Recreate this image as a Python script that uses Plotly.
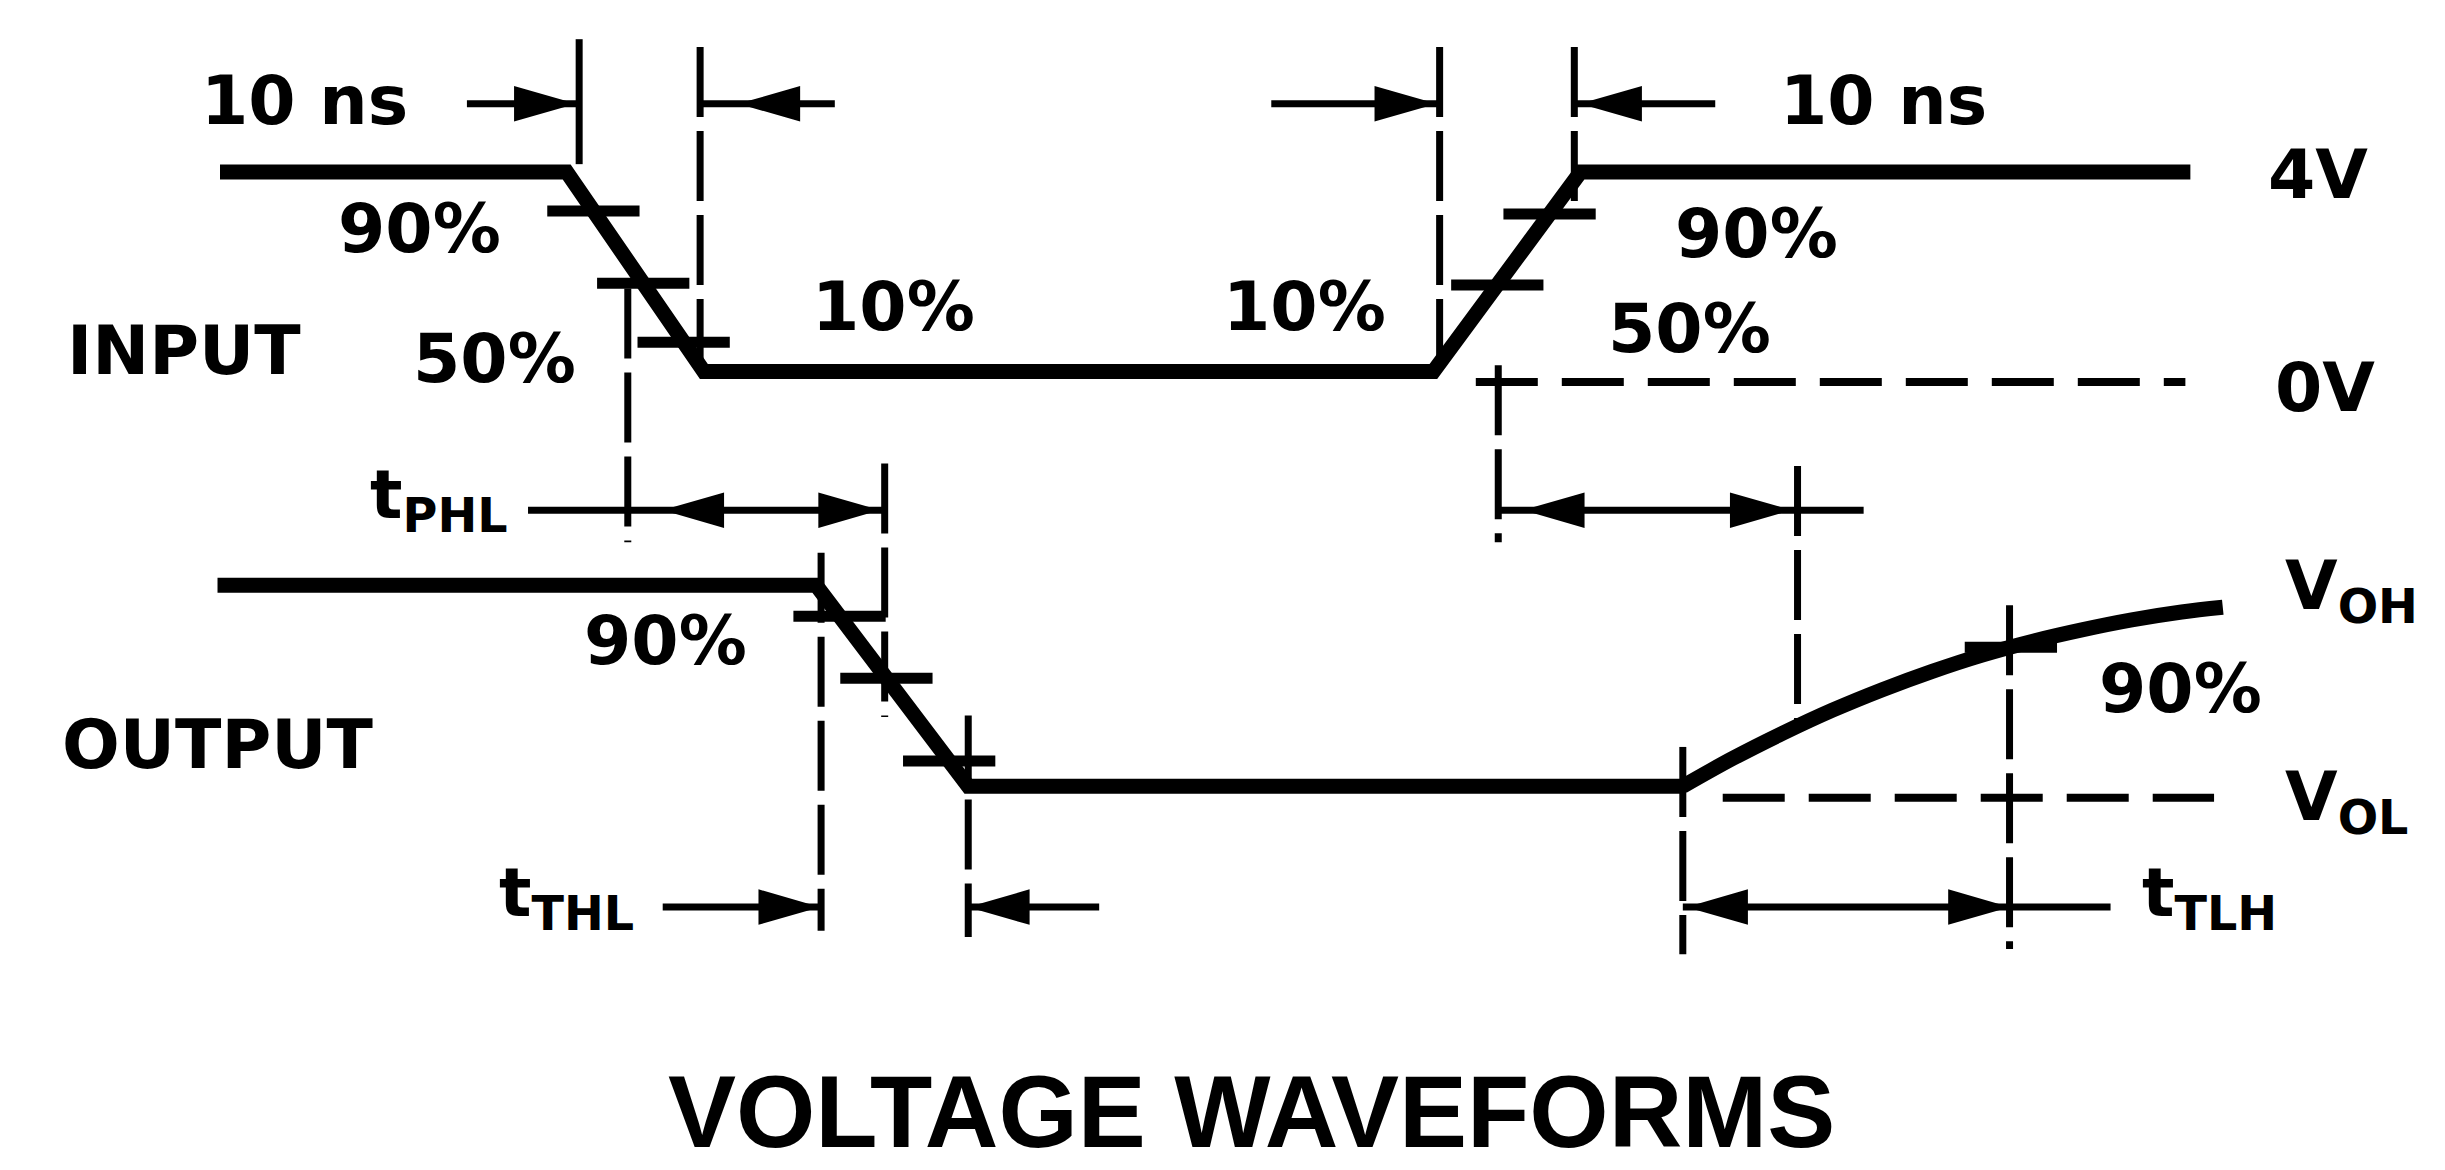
import numpy as np
import plotly.graph_objects as go

# ---------------- data (time in ns, level in diagram volts) ----------------
input_t = [-0.5, 27.3, 38.3, 96.8, 108.6, 157.5]
input_v = [4.0, 4.0, 0.2, 0.2, 4.0, 4.0]

output_t = [-0.7, 47.3, 59.5, 116.8]
output_v = [4.05, 4.05, 0.22, 0.22]
# slow rising output edge (curved)
output_rise_t = [116.8, 120.8, 124.8, 128.8, 132.8, 136.8, 140.8, 144.8, 148.8, 152.8, 156.8, 160.1]
output_rise_v = [0.22, 0.75, 1.23, 1.67, 2.06, 2.41, 2.72, 2.98, 3.20, 3.39, 3.54, 3.63]
output_offset = -7.92  # output waveform drawn below the input one

zero_ref_t = [100.2, 157.1]   # 0V reference (dashed)
vol_ref_t = [120.0, 159.4]    # VOL reference (dashed)

# levels (V) of the crossing ticks on each edge
input_fall_ticks = [3.26, 1.88, 0.76]
input_rise_ticks = [3.2, 1.85]
output_fall_ticks = [3.46, 2.28, 0.70]
output_rise_ticks = [2.87]

# timing reference lines
ref_line_t = [28.3, 38.0, 97.3, 108.1, 32.2, 102.0, 52.8, 47.7, 59.5, 126.0, 116.8, 143.0]
ref_line_top = [6.53, 6.38, 6.38, 6.38, 1.78, 0.32, -1.55, -3.25, -6.35, -1.6, -6.95, -4.25]
ref_line_bottom = [4.15, 0.0, 0.2, 3.26, -3.05, -3.05, -6.38, -10.45, -10.57, -6.53, -10.9, -10.8]

# dimension lines
dim_v = [5.30, 5.30, 5.30, 5.30, -2.44, -2.44, -10.0, -10.0, -10.0]
dim_from = [19.3, 38.0, 83.8, 108.1, 24.2, 102.0, 35.0, 59.5, 116.8]
dim_to = [28.3, 48.8, 97.3, 119.4, 52.8, 131.3, 47.7, 70.0, 151.1]

# arrowheads (tip time, level, direction +1 right / -1 left)
arrow_tip_t = [27.6, 41.5, 96.6, 109.0, 35.4, 52.0, 104.4, 125.1, 47.2, 59.9, 117.5, 142.6]
arrow_v = [5.30, 5.30, 5.30, 5.30, -2.44, -2.44, -2.44, -2.44, -10.0, -10.0, -10.0, -10.0]
arrow_dir = [1, -1, 1, -1, -1, 1, -1, 1, 1, -1, -1, 1]

# ---------------- figure ----------------
BLACK = "#000000"
fig = go.Figure()


def seg_trace(xs, ys, width, dash="solid", shape="linear"):
    fig.add_trace(go.Scatter(x=xs, y=ys, mode="lines", hoverinfo="skip",
                             line=dict(color=BLACK, width=width, dash=dash, shape=shape)))


# waveforms
seg_trace(input_t, input_v, 15)
seg_trace(output_t, [v + output_offset for v in output_v], 15)
seg_trace(output_rise_t, [v + output_offset for v in output_rise_v], 15, shape="spline")

# reference dashed levels
seg_trace(zero_ref_t, [0.0, 0.0], 8, "62px,24px")
seg_trace(vol_ref_t, [output_offset, output_offset], 8, "62px,24px")

# crossing ticks
tick_half = 3.7
tx, ty = [], []
fall_in = np.interp(input_fall_ticks, [input_v[2], input_v[1]], [input_t[2], input_t[1]])
rise_in = np.interp(input_rise_ticks, [input_v[3], input_v[4]], [input_t[3], input_t[4]])
fall_out = np.interp(output_fall_ticks, [output_v[2], output_v[1]], [output_t[2], output_t[1]])
rise_out = np.interp(output_rise_ticks, output_rise_v, output_rise_t)
for ts, vs, off in [(fall_in, input_fall_ticks, 0.0), (rise_in, input_rise_ticks, 0.0),
                    (fall_out, output_fall_ticks, output_offset),
                    (rise_out, output_rise_ticks, output_offset)]:
    for t, v in zip(ts, vs):
        tx += [t - tick_half, t + tick_half, None]
        ty += [v + off, v + off, None]
seg_trace(tx, ty, 11)

# timing reference lines (first solid, rest dashed)
seg_trace([ref_line_t[0], ref_line_t[0]], [ref_line_top[0], ref_line_bottom[0]], 7)
for t, a, b in zip(ref_line_t[1:], ref_line_top[1:], ref_line_bottom[1:]):
    seg_trace([t, t], [a, b], 7, "70px,14px")

# dimension lines
dx, dy = [], []
for v, a, b in zip(dim_v, dim_from, dim_to):
    dx += [a, b, None]
    dy += [v, v, None]
seg_trace(dx, dy, 7)

# arrowheads as filled polygons
L, H = 4.4, 0.30
for t, v, d in zip(arrow_tip_t, arrow_v, arrow_dir):
    fig.add_trace(go.Scatter(x=[t, t - d * L, t - d * L, t], y=[v, v + H, v - H, v],
                             mode="lines", fill="toself", fillcolor=BLACK, hoverinfo="skip",
                             line=dict(color=BLACK, width=3)))

FONT = "DejaVu Sans, Liberation Sans, Arial, sans-serif"
LS = 68


def label(text, x, y, xanchor="center", size=LS, family=FONT):
    fig.add_annotation(x=x, y=y, text="<b>" + text + "</b>", showarrow=False,
                       xanchor=xanchor, yanchor="middle",
                       font=dict(family=family, size=size, color=BLACK))


label("10 ns", 6.3, 5.36)
label("10 ns", 132.9, 5.36)
label("4V", 163.6, 3.95, "left")
label("0V", 164.1, -0.1, "left")
label("V<sub>OH</sub>", 164.9, -3.97, "left")
label("V<sub>OL</sub>", 164.9, -7.97, "left")
label("INPUT", -12.9, 0.6, "left")
label("OUTPUT", -13.3, -6.9, "left")
label("90%", 15.5, 2.93)
label("50%", 21.5, 0.45)
label("10%", 53.5, 1.43)
label("10%", 86.5, 1.43)
label("90%", 122.7, 2.83)
label("50%", 117.3, 1.02)
label("90%", 35.2, -4.93)
label("90%", 156.7, -5.84)
label("t<sub>PHL</sub>", 11.4, -2.23, "left")
label("t<sub>THL</sub>", 21.7, -9.8, "left")
label("t<sub>TLH</sub>", 153.5, -9.8, "left")
label("VOLTAGE WAVEFORMS", 82.2, -13.9, "center", 102,
      "Liberation Sans, Arial, Helvetica, sans-serif")

fig.update_layout(
    width=2445, height=1170,
    margin=dict(l=0, r=0, t=0, b=0),
    paper_bgcolor="white", plot_bgcolor="white",
    showlegend=False,
    xaxis=dict(range=[-17.5, 178.56], visible=False, fixedrange=True),
    yaxis=dict(range=[-15.16, 7.124], visible=False, fixedrange=True),
)

fig.write_html("out.html")
